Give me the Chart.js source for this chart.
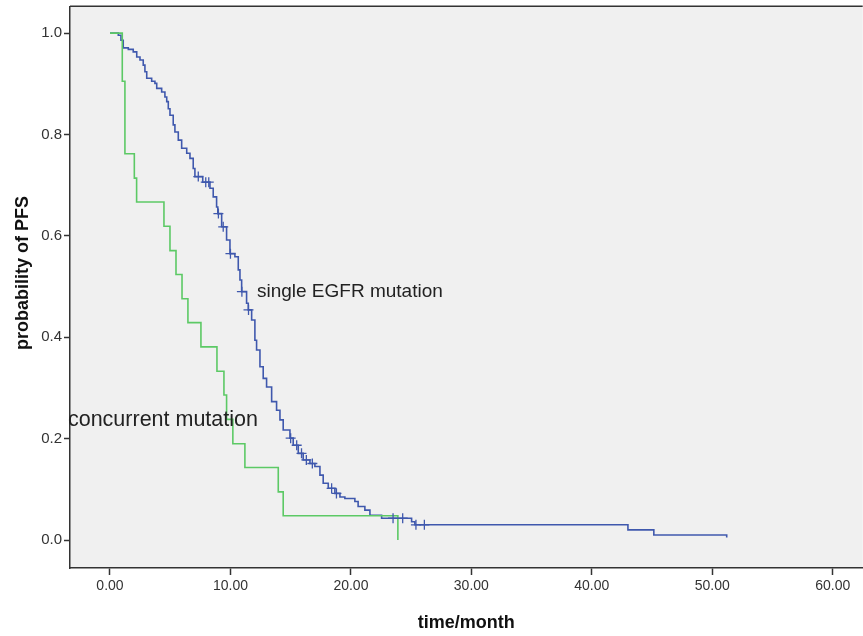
<!DOCTYPE html>
<html>
<head>
<meta charset="utf-8">
<title>PFS</title>
<script src="https://cdn.jsdelivr.net/npm/chart.js@4.4.0/dist/chart.umd.min.js"></script>
<style>
  html, body { margin: 0; padding: 0; background: #fff; overflow: hidden; }
  canvas { display: block; }
</style>
</head>
<body>
<canvas id="km" width="869" height="636"></canvas>
<script>
// single EGFR mutation (Kaplan-Meier, months / survival probability)
var blueT = [0, 0.69, 0.91, 1.10, 1.52, 1.93, 2.22, 2.49, 2.76, 2.90, 3.05, 3.46, 3.73, 3.88, 4.29,
  4.56, 4.71, 4.84, 4.98, 5.25, 5.39, 5.67, 5.95, 6.37, 6.64, 6.91, 7.05, 7.70, 8.30, 8.57,
  8.85, 8.95, 9.27, 9.68, 9.96, 10.37, 10.65, 10.79, 10.93, 11.34, 11.48, 11.76, 12.03, 12.17, 12.45,
  12.72, 13.00, 13.42, 13.83, 14.11, 14.38, 14.94, 15.21, 15.63, 16.04, 16.60, 17.01, 17.43, 17.70, 18.12,
  18.67, 19.09, 19.50, 20.33, 20.60, 21.16, 21.58, 22.55, 25.04, 25.31, 43.0, 45.15, 51.2]
var blueP = [1.0, 0.996, 0.986, 0.971, 0.968, 0.963, 0.953, 0.947, 0.937, 0.924, 0.911, 0.905, 0.901, 0.891, 0.884,
  0.874, 0.865, 0.851, 0.838, 0.819, 0.805, 0.789, 0.773, 0.763, 0.753, 0.733, 0.717, 0.706, 0.694, 0.677,
  0.657, 0.644, 0.618, 0.592, 0.565, 0.559, 0.533, 0.513, 0.490, 0.467, 0.454, 0.434, 0.394, 0.375, 0.342,
  0.319, 0.302, 0.273, 0.256, 0.237, 0.217, 0.201, 0.187, 0.171, 0.158, 0.151, 0.145, 0.128, 0.112, 0.102,
  0.092, 0.085, 0.082, 0.076, 0.066, 0.059, 0.049, 0.043, 0.036, 0.030, 0.020, 0.010, 0.005]
var blueCensor = [7.33, 7.95, 8.2, 9.0, 9.4, 10.0, 10.95, 11.5, 15.0, 15.5, 15.9, 16.3, 16.8, 18.4, 18.8, 23.5, 24.3, 25.4, 26.1]

// concurrent mutation
var greenT = [0, 1.02, 1.24, 2.02, 2.21, 4.48, 4.98, 5.48, 5.98, 6.47, 7.55, 8.88, 9.46, 9.68, 10.2, 11.2, 13.97, 14.38, 23.9]
var greenP = [1.0, 0.905, 0.762, 0.714, 0.667, 0.619, 0.571, 0.524, 0.476, 0.429, 0.381, 0.333, 0.286, 0.238, 0.190, 0.143, 0.095, 0.048, 0.0]

var xTicks = [0, 10, 20, 30, 40, 50, 60]
var yTicks = [0, 0.2, 0.4, 0.6, 0.8, 1.0]

// curve labels, in data units (month, probability)
var labelSingle = {text: 'single EGFR mutation', t: 12.2, p: 0.489, size: 19}
var labelConc = {text: 'concurrent mutation', t: -3.49, p: 0.237, size: 21.5}

var BLUE = '#3f58ad'
var GREEN = '#5cc965'
var FONT = "'Liberation Sans', Arial, sans-serif"

function toPoints(ts, ps){
  return ts.map(function(t, i){ return {x: t, y: ps[i]} })
}

// KM value at time t (last step at or before t)
function stepValue(ts, ps, t){
  var v = ps[0]
  for (var i = 0; i < ts.length; i++) {
    if (ts[i] <= t) v = ps[i]
  }
  return v
}

var censorPoints = blueCensor.map(function(t){
  return {x: t, y: stepValue(blueT, blueP, t)}
})

// no extra padding for edge tick labels, the plot box runs past the right edge
function noPad(s){
  s.paddingTop = 0
  s.paddingBottom = 0
  s.paddingLeft = 0
  s.paddingRight = 0
}

var kmPlugin = {
  id: 'kmDeco',
  beforeDraw: function(chart){
    var ctx = chart.ctx, a = chart.chartArea
    ctx.save()
    ctx.fillStyle = '#ffffff'
    ctx.fillRect(0, 0, chart.width, chart.height)
    ctx.fillStyle = '#f0f0f0'
    ctx.fillRect(a.left, a.top, a.right - a.left, a.bottom - a.top)
    ctx.strokeStyle = '#333'
    ctx.lineWidth = 1.5
    ctx.beginPath()
    ctx.moveTo(a.left, a.top)
    ctx.lineTo(a.right, a.top)
    ctx.stroke()
    ctx.restore()
  },
  afterDraw: function(chart){
    var ctx = chart.ctx, a = chart.chartArea
    var xs = chart.scales.x, ys = chart.scales.y
    ctx.save()
    ctx.fillStyle = '#222'
    ctx.textBaseline = 'middle'
    ctx.textAlign = 'left'
    ;[labelSingle, labelConc].forEach(function(l){
      ctx.font = l.size + 'px ' + FONT
      ctx.fillText(l.text, xs.getPixelForValue(l.t), ys.getPixelForValue(l.p))
    })
    // axis titles
    ctx.fillStyle = '#111'
    ctx.font = 'bold 18px ' + FONT
    ctx.textAlign = 'center'
    ctx.fillText('time/month', (a.left + a.right) / 2, 623)
    ctx.translate(23, 273)
    ctx.rotate(-Math.PI / 2)
    ctx.fillText('probability of PFS', 0, 0)
    ctx.restore()
  }
}

var ctx = document.getElementById('km').getContext('2d')
var chart = new Chart(ctx, {
  type: 'line',
  data: {
    datasets: [
      {
        label: 'concurrent mutation',
        data: toPoints(greenT, greenP),
        borderColor: GREEN,
        borderWidth: 1.6,
        stepped: 'before',
        pointRadius: 0,
        fill: false,
        order: 1
      },
      {
        label: 'single EGFR mutation',
        data: toPoints(blueT, blueP),
        borderColor: BLUE,
        borderWidth: 1.6,
        stepped: 'before',
        pointRadius: 0,
        fill: false,
        order: 2
      },
      {
        label: 'censored',
        data: censorPoints,
        showLine: false,
        pointStyle: 'cross',
        pointRadius: 5,
        borderColor: BLUE,
        pointBorderWidth: 1.3,
        order: 0
      }
    ]
  },
  options: {
    responsive: false,
    animation: false,
    devicePixelRatio: 1,
    layout: {padding: 0},
    plugins: {
      legend: {display: false},
      tooltip: {enabled: false}
    },
    scales: {
      x: {
        type: 'linear',
        min: -3.32,
        max: 62.49,
        afterBuildTicks: function(s){ s.ticks = xTicks.map(function(v){ return {value: v} }) },
        afterFit: function(s){ s.height = 68; noPad(s) },
        grid: {drawOnChartArea: false, drawTicks: true, tickLength: 7, tickColor: '#333', tickWidth: 1.5},
        border: {display: true, color: '#333', width: 1.5},
        ticks: {
          color: '#333',
          padding: 3,
          maxRotation: 0,
          font: {family: FONT, size: 14},
          callback: function(v){ return Number(v).toFixed(2) }
        }
      },
      y: {
        type: 'linear',
        min: -0.0552,
        max: 1.053,
        afterBuildTicks: function(s){ s.ticks = yTicks.map(function(v){ return {value: v} }) },
        afterFit: function(s){ s.width = 70; noPad(s) },
        grid: {drawOnChartArea: false, drawTicks: true, tickLength: 6, tickColor: '#333', tickWidth: 1.5},
        border: {display: true, color: '#333', width: 1.5},
        ticks: {
          color: '#333',
          padding: 2,
          font: {family: FONT, size: 15},
          callback: function(v){ return Number(v).toFixed(1) }
        }
      }
    }
  },
  plugins: [kmPlugin]
})
</script>
</body>
</html>
